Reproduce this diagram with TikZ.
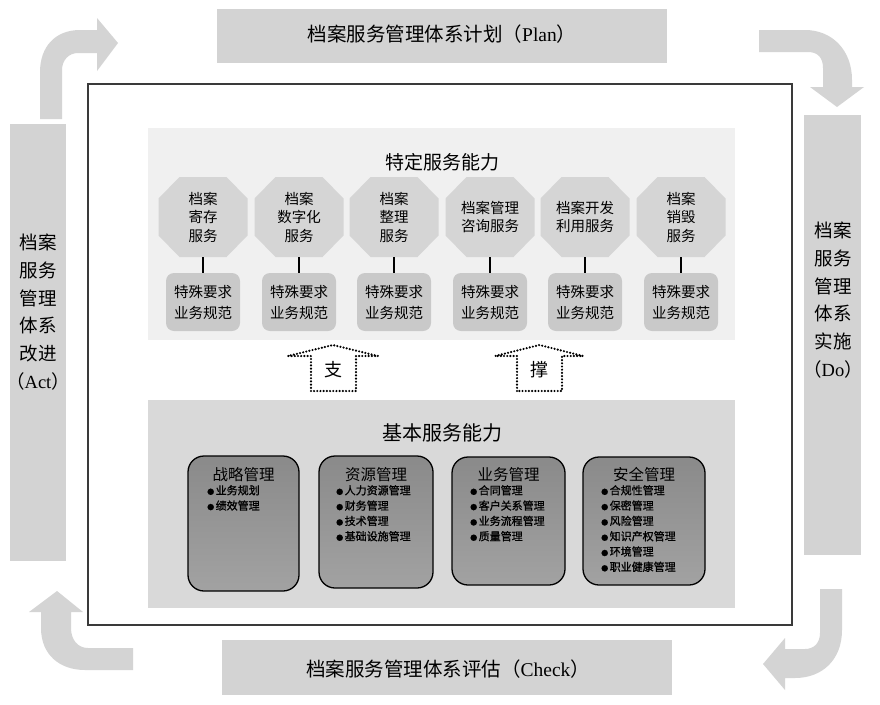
\documentclass[tikz,border=0pt]{standalone}
\usepackage{fontspec}
\setmainfont{Noto Sans CJK SC}
\newfontfamily\lat{Liberation Serif}
\newfontfamily\cjkitem{Noto Sans CJK SC}[FakeBold=1]
\usetikzlibrary{calc}
\definecolor{bannerc}{HTML}{D3D3D3}
\definecolor{arrowc}{HTML}{D4D4D4}
\definecolor{upanel}{HTML}{F0F0F0}
\definecolor{lpanel}{HTML}{D9D9D9}
\definecolor{octc}{HTML}{D5D5D5}
\definecolor{boxc}{HTML}{C9C9C9}
\definecolor{framec}{HTML}{3A3A3A}
\definecolor{dtop}{HTML}{8A8A8A}
\definecolor{dbot}{HTML}{A2A2A2}
\newcommand\octa[3]{%
  \fill[octc] (#2-23.5,177) -- (#2+23.5,177) -- (#2+44.5,198.5) -- (#2+44.5,235.5)
    -- (#2+23.5,257) -- (#2-23.5,257) -- (#2-44.5,235.5) -- (#2-44.5,198.5) -- cycle;
  \node[octtext] (#1) at (#2,217) {#3};}
\newcommand\bu{{\fontsize{7pt}{7pt}\selectfont ●}\hspace{1.5pt}}
\begin{document}
\begin{tikzpicture}[x=1pt,y=-1pt,
  banner/.style={fill=bannerc, inner sep=0pt, font=\fontsize{19.5pt}{22pt}\selectfont},
  vtext/.style={align=center, inner sep=0pt, font=\fontsize{18.5pt}{27.7pt}\selectfont},
  cyc/.style={fill=arrowc},
  octtext/.style={minimum width=89pt, minimum height=80pt, inner sep=0pt, align=center,
    font=\fontsize{14.5pt}{18.5pt}\selectfont},
  reqbox/.style={fill=boxc, rounded corners=8pt, minimum width=74pt, minimum height=58pt,
    inner sep=0pt, align=center, font=\fontsize{14.5pt}{21pt}\selectfont},
  link/.style={draw=black, line width=1.6pt},
  dotarrow/.style={draw=black, line width=2.4pt, line cap=round, dash pattern=on 0pt off 3.2pt},
  darkbox/.style={draw=black, line width=1.3pt, rounded corners=16pt, top color=dtop, bottom color=dbot, inner sep=0pt},
  boxtitle/.style={inner sep=0pt, font=\fontsize{15.5pt}{18pt}\selectfont},
  items/.style={inner sep=0pt, align=left, anchor=north west, font=\cjkitem\fontsize{11pt}{15.3pt}\selectfont},
  ptitle/.style={inner sep=0pt, font=\fontsize{19pt}{22pt}\selectfont}
]
\useasboundingbox (0,0) rectangle (880,704);
\fill[white] (0,0) rectangle (880,704);

% cycle arrows
\fill[cyc] (40,119) -- (40,72) .. controls (40,47) and (55,30) .. (80,30) -- (97,30) -- (97,18)
  -- (118,43) -- (97,71) -- (97,53) -- (78,53) .. controls (69,53) and (62,60) .. (62,70) -- (62,119) -- cycle;
\fill[cyc] (759,30) -- (805,30) .. controls (832,30) and (852,50) .. (852,80) -- (852,87) -- (864,87)
  -- (837,107) -- (810,87) -- (823,87) -- (823,68) .. controls (823,58) and (818,52) .. (808,52) -- (759,52) -- cycle;
\fill[cyc] (820,589) -- (842,589) -- (842,630) .. controls (842,660) and (822,678) .. (795,678) -- (785,678)
  -- (785,690) -- (763,664) -- (785,638) -- (785,649) -- (805,649) .. controls (814,649) and (820,643) .. (820,633) -- cycle;
\fill[cyc] (133,648) -- (88,648) .. controls (78,648) and (71,640) .. (71,628) -- (71,612) -- (83,612)
  -- (57,591) -- (29,612) -- (41,612) -- (41,628) .. controls (41,655) and (60,670) .. (85,670) -- (133,670) -- cycle;

% banners
\node[banner, minimum width=450pt, minimum height=54pt] (plan) at (442,36) {};
\node[inner sep=0pt, font=\fontsize{19.5pt}{22pt}\selectfont] (plantxt) at (442,34) {档案服务管理体系计划（{\lat Plan}）};
\node[banner, minimum width=450pt, minimum height=55pt] (check) at (447,667.5) {};
\node[inner sep=0pt, font=\fontsize{19.5pt}{22pt}\selectfont] (checktxt) at (448,669) {档案服务管理体系评估（{\lat Check}）};
\node[banner, minimum width=56pt, minimum height=437pt] (actbar) at (38,342.5) {};
\node[vtext] (act) at (38,312) {档案\\服务\\管理\\体系\\改进\\（{\lat Act}）};
\node[banner, minimum width=57pt, minimum height=440pt] (dobar) at (832.5,335) {};
\node[vtext] (do) at (833,300) {档案\\服务\\管理\\体系\\实施\\（{\lat Do}）};

% main frame
\draw[framec, line width=2pt] (88,84) rectangle (792,625);

% upper panel
\fill[upanel] (148,128) rectangle (735,340);
\node[ptitle] (spec) at (442,162) {特定服务能力};
\octa{o1}{203}{档案\\寄存\\服务}
\octa{o2}{299}{档案\\数字化\\服务}
\octa{o3}{394}{档案\\整理\\服务}
\octa{o4}{490}{档案管理\\咨询服务}
\octa{o5}{585}{档案开发\\利用服务}
\octa{o6}{681}{档案\\销毁\\服务}
\foreach \i/\x in {1/203,2/299,3/394,4/490,5/585,6/681}{
  \node[reqbox] (b\i) at (\x,302) {特殊要求\\业务规范};
  \draw[link] (o\i.south) -- (b\i.north);
}

% support arrows
\draw[dotarrow] (311,391) -- (311,356) -- (288,356) -- (333,345) -- (378,356) -- (356,356) -- (356,391) -- cycle;
\node[ptitle, font=\fontsize{18pt}{20pt}\selectfont] (zhi) at (333,370) {支};
\draw[dotarrow] (517,391) -- (517,356) -- (495,356) -- (539.5,345) -- (583,356) -- (562,356) -- (562,391) -- cycle;
\node[ptitle, font=\fontsize{18pt}{20pt}\selectfont] (cheng) at (539.5,370) {撑};

% lower panel
\fill[lpanel] (148,400) rectangle (735,608);
\node[ptitle, font=\fontsize{20pt}{22pt}\selectfont] (basic) at (442,433) {基本服务能力};

\node[darkbox, minimum width=111pt, minimum height=135pt] (d1) at (243.5,523.5) {};
\node[darkbox, minimum width=114pt, minimum height=132pt] (d2) at (376,522) {};
\node[darkbox, minimum width=113pt, minimum height=128pt] (d3) at (508.5,521) {};
\node[darkbox, minimum width=122pt, minimum height=128pt] (d4) at (644,521) {};

\node[boxtitle] (t1) at (243.5,475) {战略管理};
\node[boxtitle] (t2) at (376,475) {资源管理};
\node[boxtitle] (t3) at (508.5,475) {业务管理};
\node[boxtitle] (t4) at (644,475) {安全管理};

\node[items] (l1) at (207,485) {\bu 业务规划\\\bu 绩效管理};
\node[items] (l2) at (336,485) {\bu 人力资源管理\\\bu 财务管理\\\bu 技术管理\\\bu 基础设施管理};
\node[items] (l3) at (470,485) {\bu 合同管理\\\bu 客户关系管理\\\bu 业务流程管理\\\bu 质量管理};
\node[items] (l4) at (601,485) {\bu 合规性管理\\\bu 保密管理\\\bu 风险管理\\\bu 知识产权管理\\\bu 环境管理\\\bu 职业健康管理};
\end{tikzpicture}
\end{document}
